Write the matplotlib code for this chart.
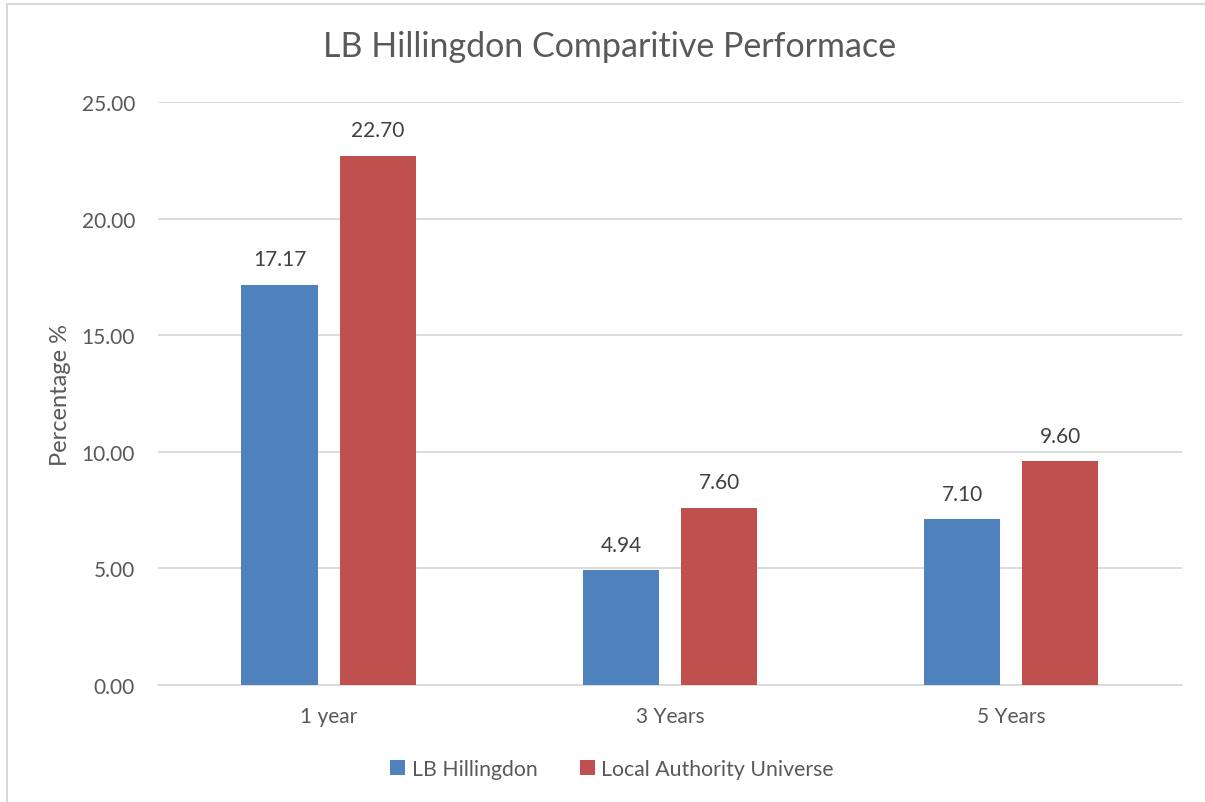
import numpy as np
import matplotlib
matplotlib.use('Agg')
import matplotlib.pyplot as plt
from matplotlib.patches import Rectangle

categories = ['1 year', '3 Years', '5 Years']
hillingdon = [17.17, 4.94, 7.10]
la_universe = [22.70, 7.60, 9.60]
series_names = ['LB Hillingdon', 'Local Authority Universe']

BLUE = '#4F81BD'
RED = '#C0504D'
TEXT = '#595959'
GRID = '#D9D9D9'

plt.rcParams['font.family'] = ['Lato', 'DejaVu Sans']

fig = plt.figure(figsize=(12.05, 8.03), dpi=100, facecolor='white')
ax = fig.add_axes([0.131, 0.1457, 0.850, 0.726])

# light frame round the chart area (only left/top edges visible in source)
fig.add_artist(Rectangle((7 / 1205, -0.1), 1.2, 1 - 5 / 803 + 0.1,
                         transform=fig.transFigure, fill=False,
                         edgecolor='#D9D9D9', linewidth=1.5))

xs = np.arange(len(categories))
w = 0.223
off = 0.1436
b1 = ax.bar(xs - off, hillingdon, width=w, color=BLUE, label=series_names[0], zorder=3)
b2 = ax.bar(xs + off, la_universe, width=w, color=RED, label=series_names[1], zorder=3)

for bars, vals in ((b1, hillingdon), (b2, la_universe)):
    for rect, v in zip(bars, vals):
        ax.annotate(f'{v:.2f}', (rect.get_x() + rect.get_width() / 2, v),
                    xytext=(0, 11), textcoords='offset points',
                    ha='center', va='bottom', fontsize=15, color='#404040')

ax.set_xlim(-0.5, len(categories) - 0.5)
ax.set_ylim(0, 25)
ax.set_yticks(np.arange(0, 25.01, 5))
ax.set_yticklabels([f'{t:.2f}' for t in np.arange(0, 25.01, 5)])
ax.set_xticks(xs)
ax.set_xticklabels(categories)
ax.tick_params(axis='both', length=0, labelsize=15, labelcolor=TEXT)
ax.tick_params(axis='y', pad=16.5)
ax.tick_params(axis='x', pad=15)
ax.grid(True, axis='y', color=GRID, linewidth=1.3, zorder=0)
for s in ('top', 'right', 'left'):
    ax.spines[s].set_visible(False)
ax.spines['bottom'].set_color(GRID)
ax.spines['bottom'].set_linewidth(1.3)

ax.set_ylabel('Percentage %', fontsize=17, color=TEXT)
ax.yaxis.set_label_coords(-0.085, 0.5)
fig.text(0.506, 0.9415, 'LB Hillingdon Comparitive Performace',
         ha='center', va='center', fontsize=24.5, color=TEXT)

fig.legend(handles=[b1, b2], loc='center', bbox_to_anchor=(0.508, 0.041),
           ncol=2, frameon=False, fontsize=15.3, labelcolor=TEXT,
           handlelength=0.7, handleheight=0.7, handletextpad=0.3,
           columnspacing=2.0)

fig.savefig('out.png', dpi=100, facecolor='white')
